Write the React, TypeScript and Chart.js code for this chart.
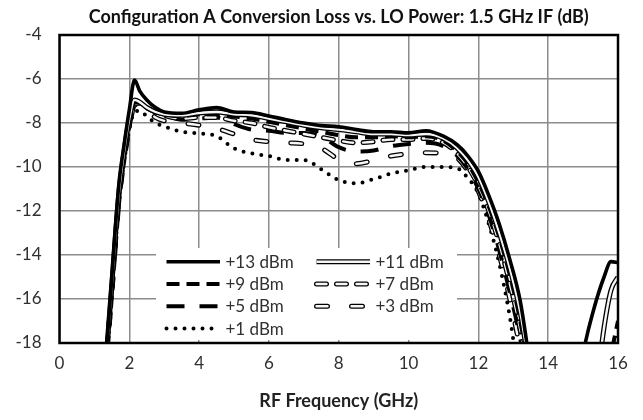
import React, { useEffect, useRef } from "react";
import { Chart, registerables } from "chart.js";

Chart.register(...registerables);

const TITLE = "Configuration A Conversion Loss vs. LO Power: 1.5 GHz IF (dB)";
const X_TITLE = "RF Frequency (GHz)";
const X_MIN = 0;
const X_MAX = 16;
const X_STEP = 2;
const Y_MIN = -18;
const Y_MAX = -4;
const Y_STEP = 2;

const FREQ_GHZ = [1.2, 1.36, 1.5, 1.7, 1.85, 2.0, 2.15, 2.3, 2.5, 2.75, 3.0, 3.5, 4.0, 4.5, 5.0, 5.5, 6.0, 6.5, 7.0, 7.5, 8.0, 8.5, 9.0, 9.5, 10.0, 10.5, 11.0, 11.4, 11.7, 12.0, 12.3, 12.6, 12.9, 13.2, 13.5, 13.8, 14.5, 15.0, 15.3, 15.6, 15.8, 16.0];

const LOSS_P13 = [-21.5, -18, -15, -10.8, -9.0, -7.4, -6.05, -6.55, -6.95, -7.3, -7.5, -7.56, -7.4, -7.3, -7.5, -7.52, -7.68, -7.85, -8.0, -8.12, -8.17, -8.3, -8.4, -8.4, -8.45, -8.35, -8.6, -9.0, -9.5, -10.2, -11.3, -12.6, -14.2, -16.1, -19.2, -22, -24, -18.5, -16.5, -15.0, -14.3, -14.35];
const LOSS_P11 = [-21.6, -18.2, -15.3, -11.2, -9.3, -7.8, -6.95, -7.05, -7.3, -7.5, -7.6, -7.65, -7.55, -7.5, -7.6, -7.65, -7.8, -7.95, -8.1, -8.22, -8.3, -8.4, -8.5, -8.5, -8.55, -8.5, -8.7, -9.15, -9.7, -10.45, -11.6, -13.0, -14.6, -16.6, -19.5, -22, -24, -24, -21, -17.3, -15.6, -15.0];
const LOSS_P9 = [-21.7, -18.3, -15.5, -11.4, -9.5, -8.0, -7.05, -7.1, -7.3, -7.5, -7.6, -7.7, -7.6, -7.6, -7.7, -7.8, -7.95, -8.1, -8.25, -8.4, -8.55, -8.65, -8.65, -8.6, -8.65, -8.6, -8.8, -9.3, -9.85, -10.7, -11.8, -13.2, -14.9, -17.0, -19.8, -22, -24, -24, -24, -21, -18.6, -17.0];
const LOSS_P7 = [-21.8, -18.4, -15.6, -11.5, -9.6, -8.1, -7.1, -7.1, -7.3, -7.5, -7.65, -7.8, -7.75, -7.75, -7.9, -8.0, -8.2, -8.35, -8.5, -8.65, -8.8, -8.9, -8.85, -8.75, -8.75, -8.7, -8.9, -9.4, -10.0, -10.85, -12.0, -13.5, -15.3, -17.4, -20.2, -22, -24, -24, -24, -22, -19.5, -17.5];
const LOSS_P5 = [-21.8, -18.4, -15.6, -11.5, -9.6, -8.1, -7.15, -7.1, -7.3, -7.5, -7.6, -7.85, -7.8, -7.75, -8.05, -8.3, -8.35, -8.45, -8.45, -8.6, -9.1, -9.3, -9.25, -9.05, -8.95, -8.9, -9.05, -9.5, -10.1, -11.0, -12.2, -13.8, -15.7, -17.8, -20.5, -23, -24, -24, -24, -23, -20.5, -18.5];
const LOSS_P3 = [-21.9, -18.5, -15.7, -11.6, -9.7, -8.2, -7.2, -7.15, -7.4, -7.75, -7.9, -8.0, -8.1, -8.25, -8.5, -8.75, -8.85, -8.9, -8.95, -9.15, -9.65, -9.85, -9.7, -9.5, -9.4, -9.35, -9.4, -9.6, -10.2, -11.1, -12.4, -14.0, -16.0, -18.3, -21, -23, -24, -24, -24, -23, -21, -19];
const LOSS_P1 = [-22, -18.6, -15.8, -11.7, -9.8, -8.3, -7.5, -7.45, -7.7, -8.0, -8.15, -8.4, -8.47, -8.6, -9.15, -9.38, -9.5, -9.68, -9.68, -10.1, -10.6, -10.74, -10.55, -10.3, -10.15, -10.0, -10.0, -10.06, -10.5, -11.2, -12.6, -14.4, -16.8, -20, -22, -24, -24, -24, -24, -23, -20, -18.2];

// legend order (row-major, two columns)
const SERIES_LABELS = ["+13 dBm", "+11 dBm", "+9 dBm", "+7 dBm", "+5 dBm", "+3 dBm", "+1 dBm"];
const SERIES_VALUES = [LOSS_P13, LOSS_P11, LOSS_P9, LOSS_P7, LOSS_P5, LOSS_P3, LOSS_P1];

type Stroke = { color: string; width: number; dash: number[]; cap: CanvasLineCap };
const FILL = "#f6f6f6";
const STYLES: Stroke[][] = [
  [{ color: "#000", width: 3.6, dash: [], cap: "butt" }],
  [{ color: "#000", width: 5, dash: [], cap: "butt" }, { color: FILL, width: 2.4, dash: [], cap: "butt" }],
  [{ color: "#000", width: 4, dash: [13, 7], cap: "butt" }],
  [{ color: "#000", width: 5, dash: [10, 10], cap: "round" }, { color: FILL, width: 2.4, dash: [10, 10], cap: "round" }],
  [{ color: "#000", width: 4, dash: [18, 15], cap: "butt" }],
  [{ color: "#000", width: 5, dash: [11, 24], cap: "round" }, { color: FILL, width: 2.4, dash: [11, 24], cap: "round" }],
  [{ color: "#000", width: 4, dash: [0, 9], cap: "round" }],
];

const FONT = "Lato, 'Open Sans', sans-serif";
const TEXT_COLOR = "#303030";

const insetLegend = {
  id: "insetLegend",
  beforeDatasetsDraw(chart: any) {
    const { ctx, chartArea: a } = chart;
    ctx.save();
    ctx.fillStyle = "#ffffff";
    ctx.fillRect(a.left + 96.5, a.top + 213, 301, 92);
    ctx.font = `17px ${FONT}`;
    ctx.textBaseline = "middle";
    ctx.textAlign = "left";
    SERIES_LABELS.forEach((label, i) => {
      const row = Math.floor(i / 2);
      const col = i % 2;
      const y = a.top + 226.7 + row * 22.3;
      const x0 = a.left + (col === 0 ? 107 : 257);
      const x1 = x0 + 53.5;
      STYLES[i].forEach((s) => {
        ctx.beginPath();
        ctx.strokeStyle = s.color;
        ctx.lineWidth = s.width;
        ctx.lineCap = s.cap;
        ctx.setLineDash(s.dash);
        ctx.moveTo(x0, y);
        ctx.lineTo(x1, y);
        ctx.stroke();
      });
      ctx.setLineDash([]);
      ctx.fillStyle = TEXT_COLOR;
      ctx.fillText(label, x1 + 5.5, y + 0.5);
    });
    ctx.restore();
  },
};

const plotBorder = {
  id: "plotBorder",
  afterDatasetsDraw(chart: any) {
    const { ctx, chartArea: a } = chart;
    ctx.save();
    ctx.strokeStyle = "#000";
    ctx.lineWidth = 2.5;
    ctx.setLineDash([]);
    ctx.strokeRect(a.left, a.top, a.right - a.left, a.bottom - a.top);
    ctx.restore();
  },
};

export default function App() {
  const ref = useRef<HTMLCanvasElement | null>(null);

  useEffect(() => {
    if (!ref.current) return;
    const datasets: any[] = [];
    let k = 0;
    // draw from the lowest series (bottom) to +13 dBm (top)
    for (let i = SERIES_LABELS.length - 1; i >= 0; i--) {
      STYLES[i].forEach((s, j) => {
        datasets.push({
          label: j === 0 ? SERIES_LABELS[i] : SERIES_LABELS[i] + " fill",
          data: FREQ_GHZ.map((x, n) => ({ x, y: SERIES_VALUES[i][n] })),
          borderColor: s.color,
          borderWidth: s.width,
          borderDash: s.dash,
          borderCapStyle: s.cap,
          borderJoinStyle: "round",
          pointRadius: 0,
          fill: false,
          cubicInterpolationMode: "monotone",
          order: 100 - k++,
        });
      });
    }

    const chart = new Chart(ref.current, {
      type: "line",
      data: { datasets },
      plugins: [insetLegend, plotBorder],
      options: {
        animation: false,
        responsive: false,
        devicePixelRatio: 1,
        layout: { padding: { left: 0, right: 25, top: 0, bottom: 0 } },
        plugins: {
          legend: { display: false },
          tooltip: { enabled: false },
          title: {
            display: true,
            fullSize: false,
            text: TITLE,
            color: "#111",
            font: { family: FONT, size: 18, weight: "bold" },
            padding: { top: 6, bottom: 7.4 },
          },
        },
        scales: {
          x: {
            type: "linear",
            min: X_MIN,
            max: X_MAX,
            ticks: {
              stepSize: X_STEP,
              color: TEXT_COLOR,
              font: { family: FONT, size: 17 },
              padding: 10,
              maxRotation: 0,
            },
            grid: { color: "#8c8c8c", lineWidth: 1.5, drawTicks: false },
            border: { display: false },
            title: {
              display: true,
              text: X_TITLE,
              color: "#222",
              font: { family: FONT, size: 18, weight: "bold" },
              padding: { top: 0, bottom: 8 },
            },
            afterFit: (s: any) => {
              s.height = 77;
            },
          },
          y: {
            type: "linear",
            min: Y_MIN,
            max: Y_MAX,
            ticks: {
              stepSize: Y_STEP,
              color: TEXT_COLOR,
              font: { family: FONT, size: 17 },
              padding: 18,
            },
            grid: { color: "#8c8c8c", lineWidth: 1.5, drawTicks: false },
            border: { display: false },
            afterFit: (s: any) => {
              s.width = 59.5;
            },
          },
        },
      },
    } as any);
    return () => chart.destroy();
  }, []);

  return (
    <div style={{ position: "fixed", left: 0, top: 0, width: 643, height: 420, background: "#fff" }}>
      <canvas ref={ref} width={643} height={420} style={{ display: "block" }} />
    </div>
  );
}
